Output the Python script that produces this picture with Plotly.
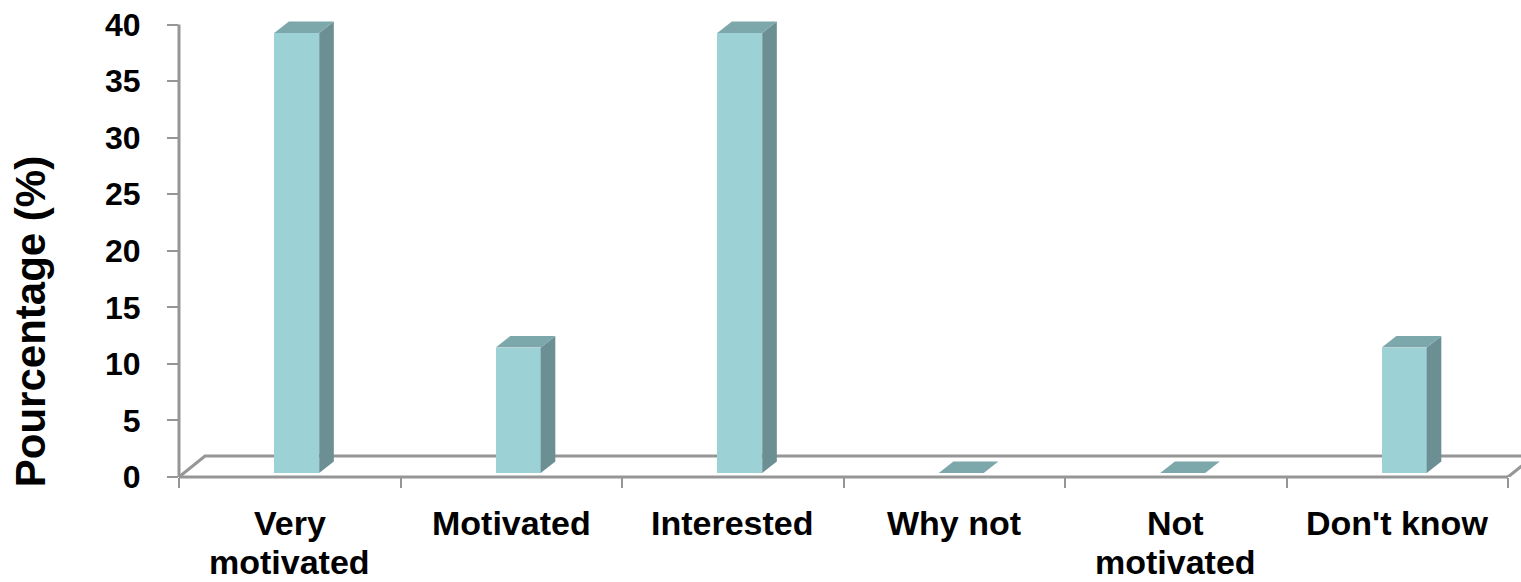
import plotly.graph_objects as go

# Survey answers (% of respondents)
categories = ["Very motivated", "Motivated", "Interested", "Why not", "Not motivated", "Don't know"]
tick_labels = ["Very<br>motivated", "Motivated", "Interested", "Why not", "Not<br>motivated", "Don't know"]
percentages = [38.9, 11.1, 38.9, 0.0, 0.0, 11.1]
y_ticks = [0, 5, 10, 15, 20, 25, 30, 35, 40]

# Styling of the pseudo-3D columns
FRONT = "#9CD1D6"
SIDE = "#6B8F93"
TOP = "#7CA8AC"
AXIS = "#969696"
FONT = "Liberation Sans, Arial, sans-serif"

BAR_LEFT = 0.43      # front face starts this far into each category slot
BAR_WIDTH = 0.203    # front face width (category units)
BASE = 0.35          # columns stand slightly behind the front floor edge
DEPTH_X = 0.066      # depth offset (category units)
DEPTH_Y = 1.02       # depth offset (value units)
FLOOR_DX = 26 / 1329  # floor depth in paper units
FLOOR_DY = 1.85       # floor depth in value units

n = len(categories)
centers = [i + 0.5 for i in range(n)]

fig = go.Figure()

# Front faces of the columns
fig.add_trace(go.Bar(
    x=centers,
    y=percentages,
    base=BASE,
    width=BAR_WIDTH,
    offset=BAR_LEFT - 0.5,
    marker=dict(color=FRONT, line=dict(width=0)),
    hoverinfo="skip",
    showlegend=False,
))

shapes = []

# Floor of the 3D box (back edge and the two side edges)
shapes.append(dict(
    type="path", xref="paper", yref="y", layer="below",
    path=f"M 0,0 L {FLOOR_DX},{FLOOR_DY} L {1 + FLOOR_DX},{FLOOR_DY} L 1,0",
    line=dict(color=AXIS, width=3),
))
# Value axis line
shapes.append(dict(type="line", xref="paper", yref="y", x0=0, x1=0, y0=0, y1=y_ticks[-1],
                   line=dict(color=AXIS, width=3), layer="below"))
# Category axis line (front floor edge)
shapes.append(dict(type="line", xref="x", yref="paper", x0=0, x1=n, y0=0, y1=0,
                   line=dict(color=AXIS, width=3), layer="below"))

# Side and top faces of every column
for i, v in enumerate(percentages):
    x0 = i + BAR_LEFT
    x1 = x0 + BAR_WIDTH
    y0 = BASE
    y1 = BASE + v
    if v > 0:
        shapes.append(dict(
            type="path", xref="x", yref="y", layer="above",
            path=(f"M {x1},{y0} L {x1 + DEPTH_X},{y0 + DEPTH_Y} "
                  f"L {x1 + DEPTH_X},{y1 + DEPTH_Y} L {x1},{y1} Z"),
            fillcolor=SIDE, line=dict(width=0),
        ))
    shapes.append(dict(
        type="path", xref="x", yref="y", layer="above",
        path=(f"M {x0},{y1} L {x1},{y1} L {x1 + DEPTH_X},{y1 + DEPTH_Y} "
              f"L {x0 + DEPTH_X},{y1 + DEPTH_Y} Z"),
        fillcolor=TOP, line=dict(width=0),
    ))

# Category labels, one annotation per text line (paper units below the axis)
annotations = []
LINE_Y = [-0.0968, -0.1789]
for c, label in zip(centers, tick_labels):
    for k, part in enumerate(label.split("<br>")):
        annotations.append(dict(
            x=c, y=LINE_Y[k], xref="x", yref="paper", text=part, showarrow=False,
            xanchor="center", yanchor="middle", borderpad=0,
            font=dict(family=FONT, size=34, color="black", weight="bold"),
        ))

# Value axis title
annotations.append(dict(
    x=-0.1117, y=0.327, xref="paper", yref="paper", text="Pourcentage (%)",
    showarrow=False, textangle=-90, xanchor="center", yanchor="middle",
    font=dict(family=FONT, size=42, color="black", weight="bold"),
))

fig.update_layout(
    width=1521, height=582,
    margin=dict(l=179, r=13, t=2, b=105, pad=0),
    paper_bgcolor="white", plot_bgcolor="white",
    shapes=shapes, annotations=annotations,
    bargap=0,
    xaxis=dict(
        range=[0, n], tickvals=list(range(n + 1)), showticklabels=False,
        ticks="outside", ticklen=10, tickwidth=2, tickcolor=AXIS,
        showgrid=False, zeroline=False, showline=False, fixedrange=True,
    ),
    yaxis=dict(
        range=[0, 42], tickvals=y_ticks, ticktext=[str(t) for t in y_ticks],
        ticks="outside", ticklen=11, tickwidth=2, tickcolor=AXIS,
        ticklabelstandoff=20,
        tickfont=dict(family=FONT, size=32, color="black", weight="bold"),
        showgrid=False, zeroline=False, showline=False, fixedrange=True,
    ),
)

fig.write_html("out.html")
